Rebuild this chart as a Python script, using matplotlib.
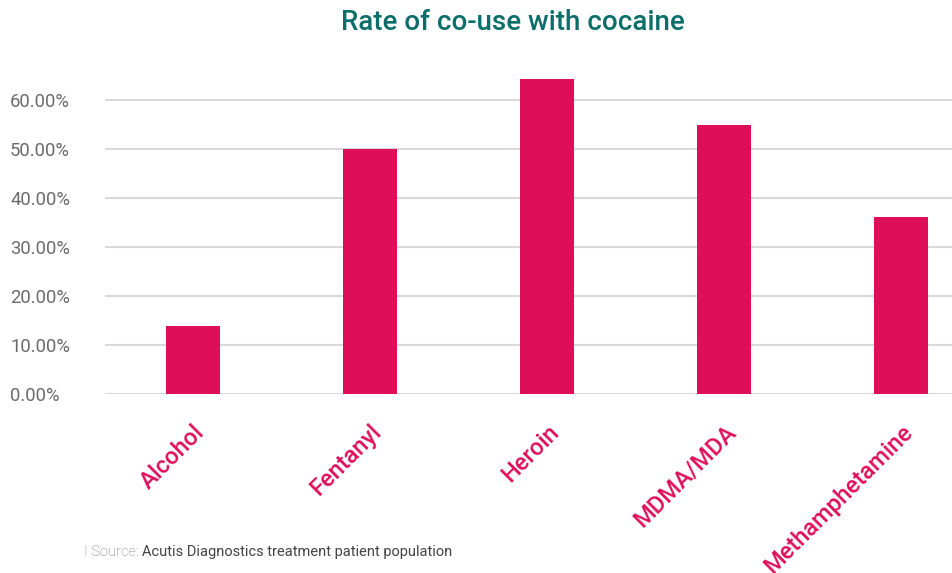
import matplotlib
matplotlib.use("Agg")
import matplotlib.pyplot as plt
from matplotlib.ticker import FuncFormatter

categories = ["Alcohol", "Fentanyl", "Heroin", "MDMA/MDA", "Methamphetamine"]
values = [13.9, 50.0, 64.3, 54.9, 36.1]
yticks = [0, 10, 20, 30, 40, 50, 60]

W, H = 952, 573
fig = plt.figure(figsize=(W / 100, H / 100), dpi=100)
left_px, right_px = 104.5, 952
bottom_px, top_px = 394, 51
ax = fig.add_axes([left_px / W, 1 - bottom_px / H, (right_px - left_px) / W, (bottom_px - top_px) / H])

bar_color = "#DE0F58"
x = list(range(len(categories)))
ax.bar(x, values, width=0.305, color=bar_color, zorder=3)

band = 177.0
ax.set_xlim(-0.5, -0.5 + (right_px - left_px) / band)
ax.set_ylim(0, 70)
ax.set_yticks(yticks)
ax.yaxis.set_major_formatter(FuncFormatter(lambda v, p: f"{v:.2f}%"))
ax.grid(axis="y", color="#d9d9d9", linewidth=1.5, zorder=0)
for s in ax.spines.values():
    s.set_visible(False)
ax.tick_params(axis="both", length=0)
ax.tick_params(axis="y", labelsize=13.3, labelcolor="#6b6b6b", pad=68)
for lab in ax.get_yticklabels():
    lab.set_fontfamily("Roboto")
    lab.set_horizontalalignment("left")

ax.set_xticks(x)
ax.set_xticklabels(categories, rotation=45, ha="right", va="top",
                   rotation_mode="anchor", fontsize=17, color=bar_color,
                   fontfamily="Roboto", fontweight="medium")
ax.tick_params(axis="x", pad=19)

fig.text(513 / W, 1 - 23 / H, "Rate of co-use with cocaine", ha="center", va="center",
         fontsize=20, color="#0B6E6B", fontfamily="Roboto", fontweight="medium")

t1 = fig.text(84 / W, 1 - 552 / H, "I Source: ", ha="left", va="center",
              fontsize=10.5, color="#777777", fontfamily="Roboto", fontweight="light")
fig.canvas.draw()
bb = t1.get_window_extent()
fig.text(bb.x1 / W, 1 - 552 / H, "Acutis Diagnostics treatment patient population",
         ha="left", va="center", fontsize=10.5, color="#444444", fontfamily="Roboto")

fig.savefig("out.png", dpi=100)
